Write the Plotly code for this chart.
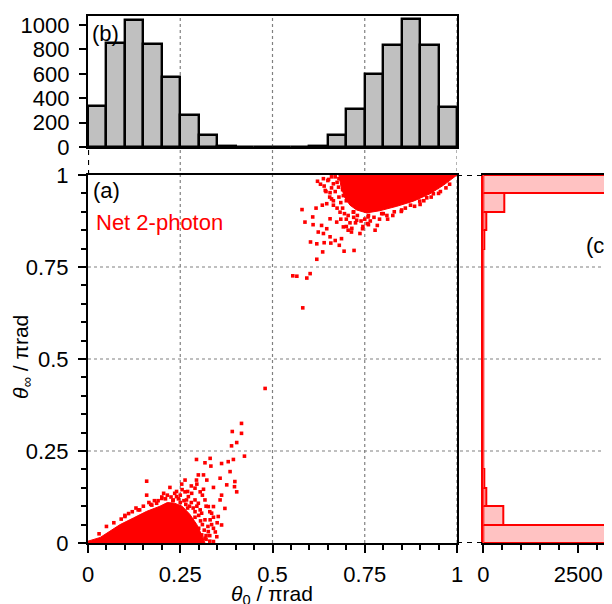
import plotly.graph_objects as go

# ---------------- data ----------------
bin_centers = [0.025, 0.075, 0.125, 0.175, 0.225, 0.275, 0.325, 0.375, 0.425, 0.475,
               0.525, 0.575, 0.625, 0.675, 0.725, 0.775, 0.825, 0.875, 0.925, 0.975]
theta0_counts = [340, 850, 1045, 845, 570, 260, 100, 12, 0, 0,
                 0, 0, 8, 100, 310, 600, 835, 1050, 835, 325]
thetainf_counts = [3420, 525, 70, 25, 12, 5, 2, 0, 1, 0,
                   0, 0, 1, 2, 6, 10, 30, 90, 550, 3430]

# dense cores of the two clusters (outline of the solid red areas)
core_ll_x = [0.0, 0.0, 0.033, 0.06, 0.087, 0.123, 0.159, 0.195, 0.215, 0.235, 0.255,
             0.276, 0.295, 0.308, 0.317, 0.0]
core_ll_y = [0.0, 0.005, 0.015, 0.032, 0.05, 0.068, 0.086, 0.1, 0.11, 0.108, 0.1,
             0.078, 0.05, 0.022, 0.0, 0.0]
core_ur_x = [0.68, 0.685, 0.695, 0.71, 0.728, 0.755, 0.791, 0.837, 0.882, 0.927,
             0.963, 0.995, 1.0, 0.68]
core_ur_y = [1.0, 0.972, 0.94, 0.918, 0.905, 0.897, 0.903, 0.915, 0.929, 0.949,
             0.972, 0.995, 1.0, 1.0]

# individual scattered events
pts_ll_x = [0.416, 0.391, 0.416, 0.403, 0.389, 0.424, 0.394, 0.380, 0.362, 0.331, 0.294,
            0.317, 0.333, 0.385, 0.358, 0.313, 0.299, 0.294, 0.322, 0.263, 0.254, 0.159,
            0.159, 0.222, 0.398, 0.397, 0.403, 0.376, 0.340, 0.362, 0.371, 0.358, 0.353,
            0.362, 0.340, 0.349, 0.326, 0.308, 0.281, 0.290, 0.304, 0.313, 0.263, 0.272,
            0.281, 0.267, 0.290, 0.299, 0.317, 0.326, 0.335, 0.308, 0.304, 0.317, 0.331,
            0.340, 0.200, 0.186, 0.231, 0.209, 0.240, 0.340, 0.317, 0.290, 0.136, 0.100,
            0.173, 0.218, 0.245, 0.254, 0.263, 0.272, 0.05, 0.10, 0.14, 0.17, 0.19, 0.21,
            0.23, 0.25, 0.27, 0.29, 0.30, 0.32, 0.33, 0.48,
            0.12, 0.13, 0.15, 0.165, 0.18, 0.2, 0.205, 0.215, 0.225, 0.235, 0.245, 0.25,
            0.26, 0.265, 0.275, 0.28, 0.285, 0.29, 0.295, 0.3, 0.305, 0.31, 0.315, 0.32,
            0.325, 0.33, 0.335, 0.345, 0.27, 0.255, 0.24, 0.28, 0.295, 0.31, 0.32, 0.33,
            0.34, 0.35, 0.11, 0.09, 0.07, 0.03]
pts_ll_y = [0.325, 0.303, 0.298, 0.273, 0.264, 0.236, 0.227, 0.221, 0.216, 0.230, 0.227,
            0.218, 0.209, 0.194, 0.176, 0.185, 0.185, 0.171, 0.171, 0.171, 0.160, 0.168,
            0.130, 0.151, 0.167, 0.153, 0.139, 0.158, 0.151, 0.130, 0.094, 0.117, 0.072,
            0.049, 0.040, 0.017, 0.031, 0.022, 0.026, 0.149, 0.139, 0.146, 0.139, 0.126,
            0.135, 0.117, 0.117, 0.108, 0.117, 0.099, 0.081, 0.081, 0.090, 0.063, 0.063,
            0.099, 0.121, 0.108, 0.117, 0.099, 0.126, 0.004, 0.013, 0.008, 0.090, 0.072,
            0.103, 0.090, 0.090, 0.063, 0.044, 0.017, 0.045, 0.075, 0.09, 0.105, 0.115,
            0.12, 0.115, 0.11, 0.095, 0.07, 0.04, 0.01, 0.005, 0.42,
            0.085, 0.095, 0.1, 0.11, 0.115, 0.125, 0.135, 0.13, 0.125, 0.135, 0.12, 0.13,
            0.115, 0.105, 0.1, 0.11, 0.095, 0.085, 0.1, 0.075, 0.06, 0.05, 0.035, 0.02,
            0.045, 0.02, 0.05, 0.03, 0.14, 0.145, 0.14, 0.155, 0.16, 0.13, 0.1, 0.085,
            0.07, 0.055, 0.08, 0.065, 0.055, 0.025]
pts_ur_x = [0.582, 0.593, 0.602, 0.555, 0.566, 0.620, 0.636, 0.694, 0.721, 0.603, 0.620,
            0.640, 0.658, 0.681, 0.670, 0.687, 0.656, 0.638, 0.624, 0.647, 0.633, 0.610,
            0.588, 0.609, 0.580, 0.618, 0.635, 0.656, 0.674, 0.692, 0.705, 0.714, 0.737,
            0.744, 0.778, 0.757, 0.784, 0.812, 0.826, 0.849, 0.874, 0.899, 0.918, 0.936,
            0.622, 0.638, 0.643, 0.656, 0.665, 0.683, 0.679, 0.665, 0.652, 0.692, 0.660,
            0.647, 0.705, 0.728, 0.719, 0.759, 0.796, 0.70, 0.72, 0.76, 0.80, 0.85, 0.90,
            0.95, 0.98, 0.69, 0.68, 0.67,
            0.64, 0.65, 0.66, 0.67, 0.675, 0.68, 0.685, 0.69, 0.695, 0.7, 0.71, 0.72,
            0.73, 0.74, 0.75, 0.765, 0.775, 0.79, 0.81, 0.83, 0.86, 0.885, 0.91, 0.93,
            0.955, 0.97, 0.655, 0.665, 0.675, 0.685, 0.7, 0.715, 0.66, 0.645, 0.63,
            0.725, 0.745, 0.76]
pts_ur_y = [0.639, 0.720, 0.732, 0.726, 0.725, 0.771, 0.791, 0.793, 0.795, 0.818, 0.813,
            0.816, 0.815, 0.809, 0.822, 0.827, 0.832, 0.841, 0.845, 0.854, 0.863, 0.865,
            0.872, 0.886, 0.906, 0.910, 0.918, 0.881, 0.872, 0.859, 0.850, 0.845, 0.841,
            0.854, 0.850, 0.868, 0.863, 0.880, 0.890, 0.901, 0.918, 0.929, 0.938, 0.949,
            0.983, 0.990, 0.958, 0.952, 0.918, 0.899, 0.967, 0.976, 0.988, 0.944, 0.935,
            0.922, 0.890, 0.877, 0.899, 0.886, 0.895, 0.93, 0.90, 0.89, 0.895, 0.905, 0.92,
            0.95, 0.975, 0.96, 0.99, 0.995,
            0.97, 0.985, 0.965, 0.955, 0.98, 0.94, 0.925, 0.91, 0.895, 0.88, 0.87, 0.885,
            0.89, 0.875, 0.88, 0.875, 0.885, 0.88, 0.89, 0.9, 0.91, 0.915, 0.93, 0.94,
            0.955, 0.965, 0.94, 0.93, 0.91, 0.88, 0.86, 0.855, 0.995, 0.955, 0.975,
            0.87, 0.86, 0.865]

x_tickvals = [0, 0.25, 0.5, 0.75, 1]
x_ticktext = ["0", "0.25", "0.5", "0.75", "1"]
hist_tickvals = [0, 200, 400, 600, 800, 1000]
hist_ticktext = ["0", "200", "400", "600", "800", "1000"]
c_tickvals = [0, 2500, 5000]
c_ticktext = ["0", "2500", "5000"]
grid_vals_x = [0.25, 0.5, 0.75, 1.0]
grid_vals_y = [0.25, 0.5, 0.75]

# ---------------- layout constants ----------------
# the page body has an 8px margin, so the figure starts at screen (8, 8)
OFF = 8
W, H = 612 - OFF, 604 - OFF


def sx(px):
    return (px - OFF) / W


def sy(py):
    return 1 - (py - OFF) / H


FONT = "Liberation Sans, Arial, sans-serif"
FS = 22
XA = [sx(88), sx(457)]
YA = [sy(543), sy(175)]
YB = [sy(147), sy(16)]
XC = [sx(483.3), 1.0]

fig = go.Figure()

fig.add_trace(go.Scatter(x=core_ll_x, y=core_ll_y, mode="lines", fill="toself",
                         fillcolor="#ff0000", line=dict(color="#ff0000", width=1),
                         xaxis="x", yaxis="y", hoverinfo="skip", showlegend=False))
fig.add_trace(go.Scatter(x=core_ur_x, y=core_ur_y, mode="lines", fill="toself",
                         fillcolor="#ff0000", line=dict(color="#ff0000", width=1),
                         xaxis="x", yaxis="y", hoverinfo="skip", showlegend=False))
fig.add_trace(go.Scatter(x=pts_ll_x + pts_ur_x, y=pts_ll_y + pts_ur_y, mode="markers",
                         marker=dict(symbol="square", size=3.6, color="#ff0000",
                                     line=dict(width=0)),
                         xaxis="x", yaxis="y", showlegend=False))

fig.add_trace(go.Bar(x=bin_centers, y=theta0_counts, width=0.05,
                     marker=dict(color="#c0c0c0", line=dict(color="black", width=2.4)),
                     xaxis="x2", yaxis="y2", showlegend=False))
fig.add_trace(go.Bar(y=bin_centers, x=thetainf_counts, width=0.05, orientation="h",
                     marker=dict(color="#ffc2c2", line=dict(color="#ff0000", width=2)),
                     xaxis="x3", yaxis="y3", showlegend=False))

common = dict(showline=True, linecolor="black", linewidth=2.2, showgrid=False,
              zeroline=False, tickfont=dict(family=FONT, size=FS, color="black"),
              tickcolor="black", tickwidth=2, automargin=False)
minor_x = dict(dtick=0.05, ticks="outside", ticklen=5, tickwidth=2, tickcolor="black",
               showgrid=False)

fig.update_layout(
    width=W, height=H, margin=dict(l=0, r=0, t=0, b=0, pad=0, autoexpand=False),
    paper_bgcolor="white", plot_bgcolor="white", bargap=0,
    font=dict(family=FONT, size=FS, color="black"),
    xaxis=dict(domain=XA, range=[0, 1], anchor="y", mirror=True, ticks="outside",
               ticklen=8, tickvals=x_tickvals, ticktext=x_ticktext, minor=minor_x,
               ticklabelstandoff=2, **common),
    yaxis=dict(domain=YA, range=[0, 1], anchor="x", mirror=True, ticks="outside",
               ticklen=8, tickvals=x_tickvals, ticktext=x_ticktext, minor=minor_x,
               ticklabelstandoff=5, **common),
    xaxis2=dict(domain=XA, range=[0, 1], anchor="y2", mirror=True, ticks="",
                showticklabels=False, **common),
    yaxis2=dict(domain=YB, range=[0, 1074], anchor="x2", mirror=True, ticks="outside",
                ticklen=7, tickvals=hist_tickvals, ticktext=hist_ticktext,
                ticklabelstandoff=5, **common),
    xaxis3=dict(domain=XC, range=[0, 3390], anchor="y3", mirror=True, ticks="outside",
                ticklen=8, tickvals=c_tickvals, ticktext=c_ticktext,
                minor=dict(dtick=500, ticks="outside", ticklen=5, tickwidth=2,
                           tickcolor="black", showgrid=False),
                ticklabelstandoff=2, **common),
    yaxis3=dict(domain=YA, range=[0, 1], anchor="x3", showline=True, linecolor="#ff0000",
                linewidth=2, ticks="", showticklabels=False, showgrid=False,
                zeroline=False, automargin=False),
)

shapes = []
grid_line = dict(color="#808080", width=1.2, dash="3px,3px")
for gx in grid_vals_x:
    shapes.append(dict(type="line", xref="x", yref="paper", x0=gx, x1=gx,
                       y0=YA[0], y1=YB[1], line=grid_line, layer="below"))
for gy in grid_vals_y:
    shapes.append(dict(type="line", xref="paper", yref="y", x0=XA[0], x1=1.0,
                       y0=gy, y1=gy, line=grid_line, layer="below"))
conn = dict(color="black", width=2.2, dash="5px,5px")
shapes.append(dict(type="line", xref="paper", yref="y", x0=XA[1], x1=XC[0], y0=1, y1=1,
                   line=conn))
shapes.append(dict(type="line", xref="paper", yref="y", x0=XA[1], x1=XC[0], y0=0, y1=0,
                   line=conn))
shapes.append(dict(type="line", xref="x", yref="paper", x0=0, x1=0, y0=YA[1], y1=YB[0],
                   line=conn))
fig.update_layout(shapes=shapes)

ann = [
    dict(text="(b)", x=sx(90), y=sy(34), xanchor="left", yanchor="middle",
         font=dict(color="black")),
    dict(text="(a)", x=sx(91), y=sy(191), xanchor="left", yanchor="middle",
         font=dict(color="black")),
    dict(text="Net 2-photon", x=sx(94), y=sy(222), xanchor="left", yanchor="middle",
         font=dict(color="#ff0000")),
    dict(text="(c)", x=sx(584), y=sy(245), xanchor="left", yanchor="middle",
         font=dict(color="black")),
    dict(text="<i>θ</i><sub>0</sub> / πrad", x=sx(272), y=sy(595), xanchor="center",
         yanchor="middle", font=dict(color="black", size=21)),
    dict(text="<i>θ</i><sub>∞</sub> / πrad", x=sx(22), y=sy(357), xanchor="center",
         yanchor="middle", textangle=-90, font=dict(color="black", size=21)),
]
for a in ann:
    a.update(xref="paper", yref="paper", showarrow=False)
fig.update_layout(annotations=ann)

fig.write_html("out.html")
